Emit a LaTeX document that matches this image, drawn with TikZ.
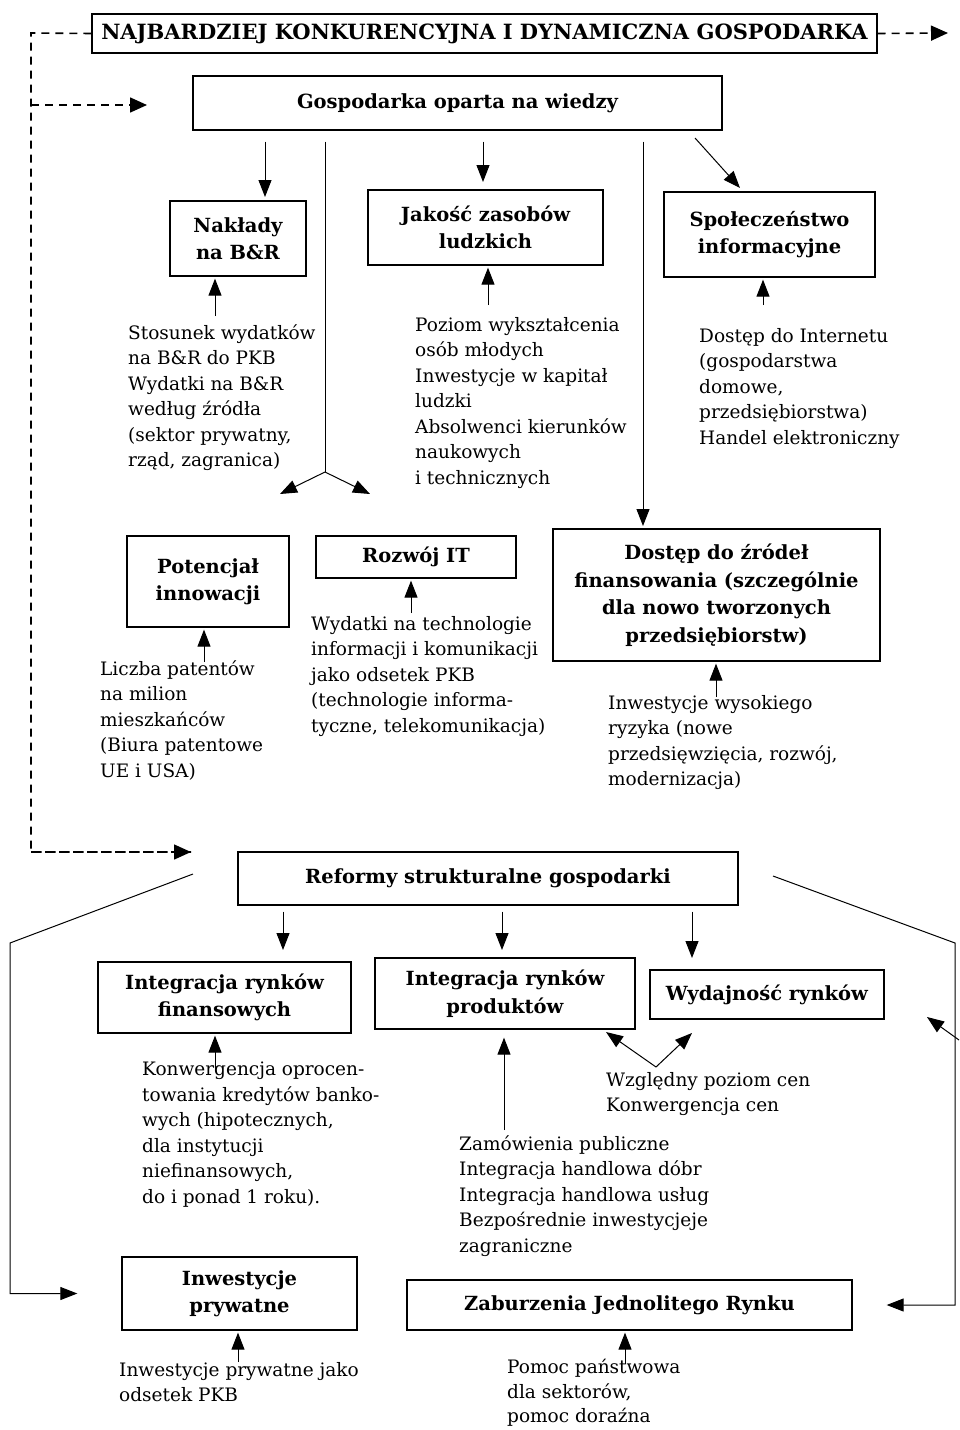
\documentclass[tikz,border=0pt]{standalone}
\usepackage{fontspec}
\setmainfont{DejaVu Serif}
\usetikzlibrary{arrows.meta}

\tikzset{
  box/.style={draw, line width=1.3pt, inner sep=0pt, align=center,
    font=\bfseries\fontsize{19.5}{27.5}\selectfont},
  desc/.style={anchor=north west, inner sep=0pt, align=left,
    font=\fontsize{18.5}{25.5}\selectfont},
  arr/.style={line width=1pt, -{Triangle[length=17pt,width=13pt]}},
  dash line/.style={line width=1.6pt, dash pattern=on 8pt off 6pt},
}

\begin{document}
\begin{tikzpicture}[x=1pt,y=-1pt]
\useasboundingbox (0,0) rectangle (959,1430);

% upper part
\node[box, minimum width=785, minimum height=39, font=\bfseries\fontsize{21}{25}\selectfont] (top) at (484.5,33.5) {NAJBARDZIEJ KONKURENCYJNA I DYNAMICZNA GOSPODARKA};
\node[box, minimum width=529, minimum height=54] (know) at (457.5,103) {Gospodarka oparta na wiedzy};

\node[box, minimum width=136, minimum height=75] (rd) at (238,238.5) {Nakłady\\na B\&R};
\node[box, minimum width=235, minimum height=75] (hum) at (485.5,227.5) {Jakość zasobów\\ludzkich};
\node[box, minimum width=211, minimum height=85] (info) at (769.5,234.5) {Społeczeństwo\\informacyjne};

\node[desc] (rdd) at (128,324) {Stosunek wydatków\\na B\&R do PKB\\Wydatki na B\&R\\według źródła\\(sektor prywatny,\\rząd, zagranica)};
\node[desc] (humd) at (415,317) {Poziom wykształcenia\\osób młodych\\Inwestycje w kapitał\\ludzki\\Absolwenci kierunków\\naukowych\\i technicznych};
\node[desc] (infod) at (699,328) {Dostęp do Internetu\\(gospodarstwa\\domowe,\\przedsiębiorstwa)\\Handel elektroniczny};

\node[box, minimum width=162, minimum height=91] (innov) at (208,581.5) {Potencjał\\innowacji};
\node[box, minimum width=200, minimum height=42] (it) at (416,557) {Rozwój IT};
\node[box, minimum width=327, minimum height=132] (fin) at (716.5,595) {Dostęp do źródeł\\finansowania (szczególnie\\dla nowo tworzonych\\przedsiębiorstw)};

\node[desc] (innovd) at (100,660) {Liczba patentów\\na milion\\mieszkańców\\(Biura patentowe\\UE i USA)};
\node[desc] (itd) at (311,616) {Wydatki na technologie\\informacji i komunikacji\\jako odsetek PKB\\(technologie informa-\\tyczne, telekomunikacja)};
\node[desc] (find) at (608,695) {Inwestycje wysokiego\\ryzyka (nowe\\przedsięwzięcia, rozwój,\\modernizacja)};

% lower part
\node[box, minimum width=500, minimum height=53] (ref) at (488,878.5) {Reformy strukturalne gospodarki};
\node[box, minimum width=253, minimum height=71] (finm) at (224.5,997.5) {Integracja rynków\\finansowych};
\node[box, minimum width=260, minimum height=71] (prod) at (505,993.5) {Integracja rynków\\produktów};
\node[box, minimum width=234, minimum height=49] (eff) at (767,994.5) {Wydajność rynków};
\node[box, minimum width=235, minimum height=73] (priv) at (239.5,1293.5) {Inwestycje\\prywatne};
\node[box, minimum width=445, minimum height=50] (sm) at (629.5,1305) {Zaburzenia Jednolitego Rynku};

\node[desc] (finmd) at (142,1062) {Konwergencja oprocen-\\towania kredytów banko-\\wych (hipotecznych,\\dla instytucji\\niefinansowych,\\do i ponad 1 roku).};
\node[desc] (prodd) at (459,1135) {Zamówienia publiczne\\Integracja handlowa dóbr\\Integracja handlowa usług\\Bezpośrednie inwestycjeje\\zagraniczne};
\node[desc] (effd) at (606,1072) {Względny poziom cen\\Konwergencja cen};
\node[desc] (privd) at (119,1362) {Inwestycje prywatne jako\\odsetek PKB};
\node[desc, font=\fontsize{18.5}{24.5}\selectfont] (smd) at (507,1359) {Pomoc państwowa\\dla sektorów,\\pomoc doraźna};

% dashed feedback lines
\coordinate (dtl) at (31,33);
\coordinate (dend) at (948,33);
\coordinate (dmid) at (147,105);
\coordinate (dlow) at (191,852);
\draw[dash line] (top.west) -- (dtl) |- (dlow);
\draw[dash line, -{Triangle[length=17pt,width=15pt]}] (top.east) -- (dend);
\draw[dash line, -{Triangle[length=17pt,width=15pt]}] (dtl |- dmid) -- (dmid);
\draw[dash line, -{Triangle[length=17pt,width=15pt]}] (dtl |- dlow) -- (dlow);

% arrows from the knowledge economy
\coordinate (k1) at (265,197);
\coordinate (k2) at (483,182);
\coordinate (k3) at (643,526);
\coordinate (k4a) at (695,138);
\coordinate (k4b) at (740,188);
\coordinate (split) at (325,472);
\coordinate (s1) at (280,494);
\coordinate (s2) at (370,494);
\draw[arr, shorten <=11pt] (k1 |- know.south) -- (k1);
\draw[arr, shorten <=11pt] (k2 |- know.south) -- (k2);
\draw[arr, shorten <=11pt] (k3 |- know.south) -- (k3);
\draw[arr] (k4a) -- (k4b);
\draw[line width=1pt, shorten <=11pt] (split |- know.south) -- (split);
\draw[arr] (split) -- (s1);
\draw[arr] (split) -- (s2);

% indicator arrows
\coordinate (u1) at (215,316);
\coordinate (u2) at (488,305);
\coordinate (u3) at (763,305);
\coordinate (u4) at (204,662);
\coordinate (u5) at (411,613);
\coordinate (u6) at (716,697);
\draw[arr, shorten >=2pt] (u1) -- (u1 |- rd.south);
\draw[arr, shorten >=2pt] (u2) -- (u2 |- hum.south);
\draw[arr, shorten >=2pt] (u3) -- (u3 |- info.south);
\draw[arr, shorten >=2pt] (u4) -- (u4 |- innov.south);
\draw[arr, shorten >=2pt] (u5) -- (u5 |- it.south);
\draw[arr, shorten >=2pt] (u6) -- (u6 |- fin.south);

% arrows from the structural reforms
\coordinate (r1) at (283,950);
\coordinate (r2) at (502,950);
\coordinate (r3) at (692,958);
\draw[arr, shorten <=6pt] (r1 |- ref.south) -- (r1);
\draw[arr, shorten <=6pt] (r2 |- ref.south) -- (r2);
\draw[arr, shorten <=6pt] (r3 |- ref.south) -- (r3);

\coordinate (l1) at (193,874);
\coordinate (l2) at (10,943);
\coordinate (e1) at (773,876);
\coordinate (e2) at (955,943);
\draw[arr, shorten >=44pt] (l1) -- (l2) |- (priv.west);
\draw[arr, shorten >=34pt] (e1) -- (e2) |- (sm.east);
\coordinate (x1) at (959,1040);
\coordinate (x2) at (927,1017);
\draw[arr] (x1) -- (x2);

\coordinate (u7) at (215,1070);
\coordinate (u8) at (504,1130);
\coordinate (u9) at (238,1362);
\coordinate (u10) at (625,1364);
\draw[arr, shorten >=2pt] (u7) -- (u7 |- finm.south);
\draw[arr, shorten >=8pt] (u8) -- (u8 |- prod.south);
\draw[arr, shorten >=2pt] (u9) -- (u9 |- priv.south);
\draw[arr, shorten >=2pt] (u10) -- (u10 |- sm.south);

\coordinate (v) at (656,1067);
\coordinate (v1) at (606,1032);
\coordinate (v2) at (692,1033);
\draw[arr] (v) -- (v1);
\draw[arr] (v) -- (v2);

\end{tikzpicture}
\end{document}
